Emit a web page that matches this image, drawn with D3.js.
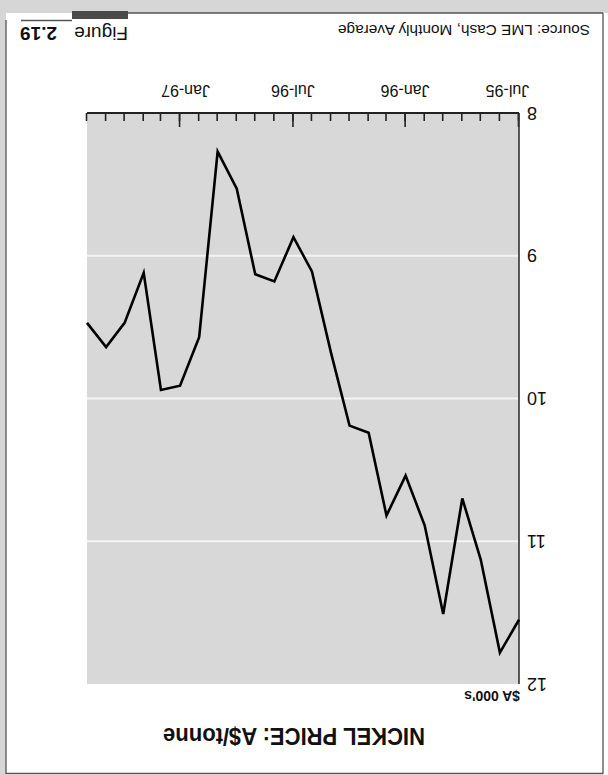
<!DOCTYPE html>
<html><head><meta charset="utf-8">
<script src="https://cdn.jsdelivr.net/npm/d3@7"></script>
<style>
body{margin:0;background:#fff;}
svg{display:block;font-family:"Liberation Sans",Arial,Helvetica,sans-serif;}
</style></head>
<body>
<script>
// ---- data ----
const months = ["1995-07","1995-08","1995-09","1995-10","1995-11","1995-12",
  "1996-01","1996-02","1996-03","1996-04","1996-05","1996-06",
  "1996-07","1996-08","1996-09","1996-10","1996-11","1996-12",
  "1997-01","1997-02","1997-03","1997-04","1997-05","1997-06"];
const priceValues = [11.55,11.78,11.13,10.70,11.51,10.89,
  10.54,10.82,10.24,10.19,9.68,9.11,
  8.87,9.18,9.13,8.53,8.27,9.57,
  9.91,9.94,9.12,9.47,9.64,9.47];
const xTickLabels = ["Jul-95","Jan-96","Jul-96","Jan-97"];
const xTickLabelMonths = ["1995-07","1996-01","1996-07","1997-01"];
const yTickValues = [8,9,10,11,12];
const gridValues = [9,10,11];
const titleText = "NICKEL PRICE: A$/tonne";
const unitText = "$A 000's";
const sourceText = "Source: LME Cash, Monthly Average";

// ---- drawing ----
const W = 608, H = 775;
const parse = d3.timeParse("%Y-%m");
const dates = months.map(parse);
const data = dates.map((d,i)=>({date:d, value:priceValues[i]}));

const svg = d3.select("body").append("svg").attr("width",W).attr("height",H);
svg.append("rect").attr("width",W).attr("height",H).attr("fill","#fff");

// whole page is shown rotated by 180 degrees
const g = svg.append("g").attr("transform","rotate(180 304 387.5)");

// scanned page margins outside frame
g.append("rect").attr("x",0).attr("y",762).attr("width",W).attr("height",13).attr("fill","#d6d6d6");
g.append("rect").attr("x",602).attr("y",0).attr("width",6).attr("height",H).attr("fill","#d6d6d6");

// frame
const frame = g.append("g").attr("stroke","#555").attr("stroke-width",1.3);
frame.append("line").attr("x1",5).attr("y1",1).attr("x2",5).attr("y2",762);
frame.append("line").attr("x1",5).attr("y1",762).attr("x2",480).attr("y2",762);
frame.append("line").attr("x1",602).attr("y1",1).attr("x2",602).attr("y2",755);
frame.append("line").attr("x1",5).attr("y1",1.5).attr("x2",602).attr("y2",1.5);
frame.append("line").attr("x1",536).attr("y1",754.5).attr("x2",587).attr("y2",754.5);
g.append("rect").attr("x",480).attr("y",756).attr("width",56).attr("height",8).attr("fill","#4a4a4a");

// scales
const x = d3.scaleTime().domain([dates[0], dates[dates.length-1]]).range([89,521]);
const y = d3.scaleLinear().domain([8,12]).range([662,91]);

// plot background
g.append("rect").attr("x",x.range()[0]).attr("y",y(12))
  .attr("width",x.range()[1]-x.range()[0]).attr("height",y(8)-y(12))
  .attr("fill","#d8d8d8");

// gridlines
g.selectAll(".grid").data(gridValues).join("line")
  .attr("x1",x.range()[0]).attr("x2",x.range()[1])
  .attr("y1",d=>y(d)).attr("y2",d=>y(d))
  .attr("stroke","#f4f4f4").attr("stroke-width",2);

// minor month ticks
const majorDates = dates.filter(d=>d.getMonth()===0||d.getMonth()===6);
g.append("g").attr("transform",`translate(0,${y(8)})`)
  .call(d3.axisBottom(x).tickValues(dates).tickSize(-8).tickSizeOuter(0).tickFormat(""))
  .call(a=>a.select(".domain").remove())
  .call(a=>a.selectAll("line").attr("stroke","#222").attr("stroke-width",1.6));
g.append("g").attr("transform",`translate(0,${y(8)})`)
  .call(d3.axisBottom(x).tickValues(majorDates).tickSize(-14).tickSizeOuter(0).tickFormat(""))
  .call(a=>a.select(".domain").remove())
  .call(a=>a.selectAll("line").attr("stroke","#222").attr("stroke-width",1.6));

// x labels
const labelDates = xTickLabelMonths.map(parse);
g.append("g").attr("transform",`translate(0,${y(8)})`)
  .call(d3.axisBottom(x).tickValues(labelDates).tickSize(0).tickPadding(17)
    .tickFormat((d,i)=>xTickLabels[i]))
  .call(a=>a.select(".domain").remove())
  .call(a=>a.selectAll("text").attr("font-size",16).attr("fill","#111")
    .attr("font-family","'Liberation Sans',Arial,sans-serif")
    .attr("dx",(d,i)=>i===0?11:(i===3?-6:0)));

// y labels
g.append("g").attr("transform",`translate(${x.range()[0]},0)`)
  .call(d3.axisLeft(y).tickValues(yTickValues).tickSize(0).tickPadding(8).tickFormat(d3.format("d")))
  .call(a=>a.select(".domain").remove())
  .call(a=>a.selectAll("text").attr("font-size",18).attr("fill","#111")
    .attr("font-family","'Liberation Sans',Arial,sans-serif"));

// axis lines
g.append("line").attr("x1",x.range()[0]).attr("x2",x.range()[0]).attr("y1",y(12)).attr("y2",y(8))
  .attr("stroke","#333").attr("stroke-width",1.6);
g.append("line").attr("x1",x.range()[0]).attr("x2",x.range()[1]).attr("y1",y(8)).attr("y2",y(8))
  .attr("stroke","#222").attr("stroke-width",1.8);

// data line
g.append("path").datum(data)
  .attr("fill","none").attr("stroke","#000").attr("stroke-width",2.6)
  .attr("stroke-linejoin","miter")
  .attr("d",d3.line().x(d=>x(d.date)).y(d=>y(d.value)));

// texts
g.append("text").attr("x",314).attr("y",47).attr("text-anchor","middle")
  .attr("font-size",24).attr("font-weight","bold").attr("fill","#111")
  .attr("textLength",262).attr("lengthAdjust","spacingAndGlyphs").text(titleText);
g.append("text").attr("x",88).attr("y",84).attr("font-size",14).attr("font-weight","bold")
  .attr("fill","#111").text(unitText);
g.append("text").attr("x",18).attr("y",750).attr("font-size",15.5).attr("fill","#111")
  .attr("textLength",252).attr("lengthAdjust","spacingAndGlyphs").text(sourceText);
g.append("text").attr("x",480).attr("y",748).attr("font-size",19).attr("fill","#111").text("Figure");
g.append("text").attr("x",588).attr("y",748).attr("text-anchor","end").attr("font-size",19)
  .attr("font-weight","bold").attr("fill","#111").text("2.19");
</script>
</body></html>
